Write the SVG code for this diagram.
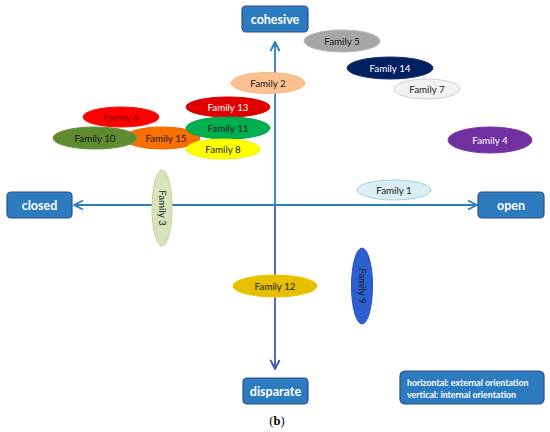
<svg xmlns="http://www.w3.org/2000/svg" width="550" height="432" viewBox="0 0 550 432">
<style>
.box{fill:#2B7BBE;stroke:#2F4C8C;stroke-width:1.2}
.bt{font-family:Lato,"Open Sans",sans-serif;font-weight:bold;font-size:12.5px;fill:#fff;text-anchor:middle}
.ft{font-family:Lato,"Open Sans",sans-serif;font-size:9.8px;fill:#1a1a1a;text-anchor:middle}
.lt{font-family:Lato,"Open Sans",sans-serif;font-weight:bold;font-size:8.8px;fill:#fff}
.w{fill:#fff}
</style>
<defs>
<marker id="ahb" viewBox="0 0 12 12" refX="11" refY="6" markerWidth="12" markerHeight="12" markerUnits="userSpaceOnUse" orient="auto">
<path d="M2,1.5 L11,6 L2,10.5" fill="none" stroke="#2E7DBF" stroke-width="1.9"/>
</marker>
<marker id="ahp" viewBox="0 0 12 12" refX="11" refY="6" markerWidth="12" markerHeight="12" markerUnits="userSpaceOnUse" orient="auto">
<path d="M2,1.5 L11,6 L2,10.5" fill="none" stroke="#4556B8" stroke-width="1.9"/>
</marker>
</defs>
<rect width="550" height="432" fill="#fff"/>
<g id="connectors" fill="none" stroke-width="1.8">
<line x1="275" y1="205" x2="275" y2="42" stroke="#2E7DBF" marker-end="url(#ahb)"/>
<line x1="275" y1="205" x2="275" y2="369" stroke="#4556B8" marker-end="url(#ahp)"/>
<line x1="275" y1="205" x2="74" y2="205" stroke="#2E7DBF" marker-end="url(#ahb)"/>
<line x1="275" y1="205" x2="477" y2="205" stroke="#2E7DBF" marker-end="url(#ahb)"/>
</g>
<g id="cohesive"><rect class="box" x="242" y="6" width="66" height="26" rx="4"/><text class="bt" x="275" y="23.5">cohesive</text></g>
<g id="closed"><rect class="box" x="7" y="192" width="65" height="26" rx="4"/><text class="bt" x="39.5" y="209.5">closed</text></g>
<g id="open"><rect class="box" x="478" y="192" width="66" height="26" rx="4"/><text class="bt" x="511" y="209.5">open</text></g>
<g id="disparate"><rect class="box" x="243" y="378" width="65" height="26" rx="4"/><text class="bt" x="275.5" y="395.5">disparate</text></g>
<g id="legend"><rect class="box" x="400" y="371" width="144" height="33" rx="5"/><text class="lt" x="407" y="386">horizontal: external orientation</text><text class="lt" x="407" y="397.5">vertical: internal orientation</text></g>
<g id="family5"><ellipse cx="342" cy="41" rx="38" ry="11" fill="#A6A6A6" stroke="#B8B8B8"/><text class="ft" x="342" y="44.5">Family 5</text></g>
<g id="family14"><ellipse cx="390" cy="68" rx="43" ry="11" fill="#002060" stroke="#1a3070"/><text class="ft w" x="390" y="71.5">Family 14</text></g>
<g id="family7"><ellipse cx="427" cy="89" rx="33" ry="10" fill="#F2F2F2" stroke="#D0D0D0"/><text class="ft" x="427" y="92.5">Family 7</text></g>
<g id="family2"><ellipse cx="268" cy="83" rx="37" ry="10.5" fill="#FAC090" stroke="#F8B880"/><text class="ft" x="268" y="86.5">Family 2</text></g>
<g id="family4"><ellipse cx="490" cy="140" rx="42" ry="13" fill="#7030A0" stroke="#7A3AAA"/><text class="ft w" x="490" y="143.5">Family 4</text></g>
<g id="family6"><ellipse cx="121" cy="117" rx="38" ry="10" fill="#FF0000" stroke="#F01010"/><text class="ft" x="121" y="120.5" style="fill:#8a0000">Family 6</text></g>
<g id="family15"><ellipse cx="162" cy="138" rx="38" ry="11" fill="#F96F00" stroke="#F06A00"/><text class="ft" x="166" y="141.5">Family 15</text></g>
<g id="family10"><ellipse cx="95" cy="138" rx="42" ry="11" fill="#5E8B2F" stroke="#6A9438"/><text class="ft" x="95" y="141.5">Family 10</text></g>
<g id="family13"><ellipse cx="228" cy="107" rx="42" ry="10" fill="#E00000" stroke="#D00000"/><text class="ft w" x="228" y="110.5">Family 13</text></g>
<g id="family11"><ellipse cx="228" cy="128" rx="42" ry="11" fill="#00B050" stroke="#00A048"/><text class="ft" x="228" y="131.5">Family 11</text></g>
<g id="family8"><ellipse cx="223" cy="149" rx="37" ry="10" fill="#FFFF00" stroke="#F0F000"/><text class="ft" x="223" y="152.5">Family 8</text></g>
<g id="family1"><ellipse cx="394" cy="190" rx="37" ry="10" fill="#DAEEF3" stroke="#9DD3E0"/><text class="ft" x="394" y="193.5">Family 1</text></g>
<g id="family3"><ellipse cx="162" cy="208" rx="10" ry="38" fill="#D7E4BD" stroke="#C3D69B"/><text class="ft" transform="translate(162 208) rotate(90)" x="0" y="3.3">Family 3</text></g>
<g id="family12"><ellipse cx="275" cy="286" rx="42" ry="11" fill="#E6C000" stroke="#F0C800"/><text class="ft" x="275" y="289.5">Family 12</text></g>
<g id="family9"><ellipse cx="362" cy="286" rx="10.5" ry="38" fill="#2E5FD0" stroke="#2850B8"/><text class="ft" transform="translate(362 286) rotate(90)" x="0" y="3.3">Family 9</text></g>
<text x="277" y="425" font-family="'Liberation Serif',serif" font-size="12.5" text-anchor="middle" fill="#000">(<tspan font-weight="bold">b</tspan>)</text>
</svg>
